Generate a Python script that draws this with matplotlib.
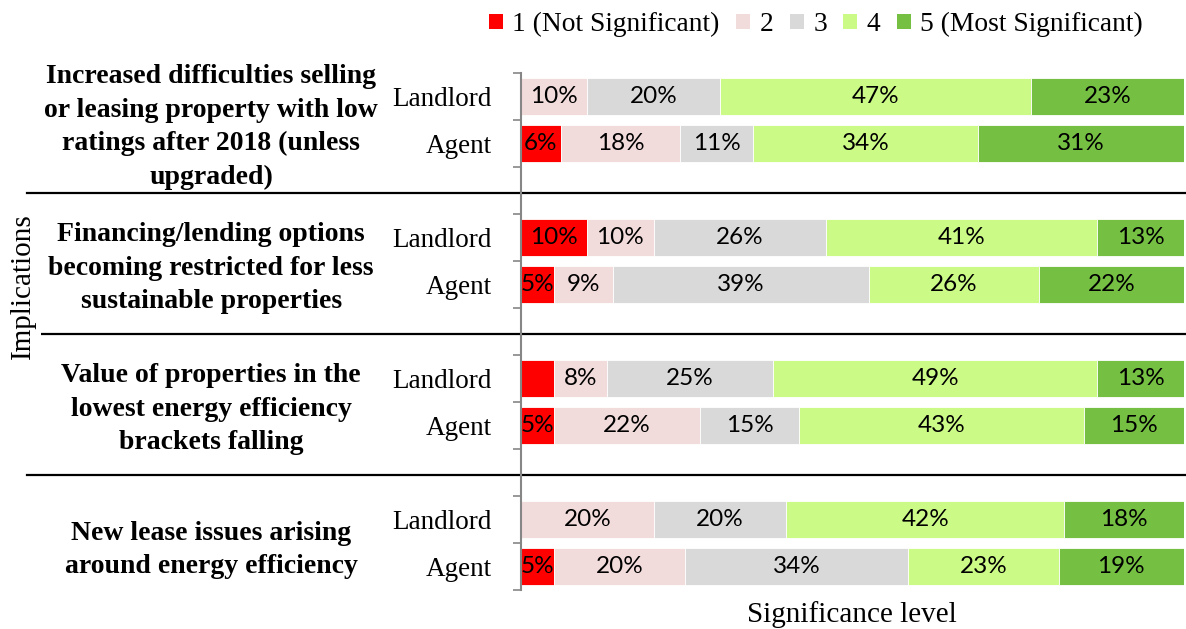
import matplotlib.pyplot as plt
from matplotlib.patches import Patch
import matplotlib.transforms as mtransforms

# implications (one per group) and respondent rows inside each group
groups = [
    'Increased difficulties selling\nor leasing property with low\nratings after 2018 (unless\nupgraded)',
    'Financing/lending options\nbecoming restricted for less\nsustainable properties',
    'Value of properties in the\nlowest energy efficiency\nbrackets falling',
    'New lease issues arising\naround energy efficiency',
]
roles = ['Landlord', 'Agent']
levels = ['1 (Not Significant)', '2', '3', '4', '5 (Most Significant)']
colors = ['#FF0000', '#F2DCDB', '#D9D9D9', '#CCFA87', '#75C043']

# share of answers per level (%), rows: group x role
landlord = [
    [0, 10, 20, 47, 23],
    [10, 10, 26, 41, 13],
    [5, 8, 25, 49, 13],
    [0, 20, 20, 42, 18],
]
agent = [
    [6, 18, 11, 34, 31],
    [5, 9, 39, 26, 22],
    [5, 22, 15, 43, 15],
    [5, 20, 34, 23, 19],
]
# labels shown on the segments ('' = no label)
landlord_lbl = [
    ['', '10%', '20%', '47%', '23%'],
    ['10%', '10%', '26%', '41%', '13%'],
    ['', '8%', '25%', '49%', '13%'],
    ['', '20%', '20%', '42%', '18%'],
]
agent_lbl = [
    ['6%', '18%', '11%', '34%', '31%'],
    ['5%', '9%', '39%', '26%', '22%'],
    ['5%', '22%', '15%', '43%', '15%'],
    ['5%', '20%', '34%', '23%', '19%'],
]

fig = plt.figure(figsize=(11.86, 6.29), dpi=100)
ax = fig.add_axes([0.4393, 0.062, 0.5587, 0.822])

n_cat = len(groups) * 3 - 1
for g in range(len(groups)):
    for r, (vals, lbls) in enumerate([(landlord[g], landlord_lbl[g]), (agent[g], agent_lbl[g])]):
        y = g * 3 + r
        total = sum(vals)
        left = 0
        for k, v in enumerate(vals):
            w = v / total * 100
            if w > 0:
                ax.barh(y, w, left=left, height=0.79, color=colors[k],
                        edgecolor='white', linewidth=0.6)
                if lbls[k]:
                    ax.text(left + w / 2, y, lbls[k], ha='center', va='center',
                            fontsize=17.5, family='Lato', color='black')
            left += w

ax.set_xlim(0, 100)
ax.set_ylim(n_cat - 0.5, -0.5)

# role labels as tick labels, boundary ticks as minor ticks
ticks, tick_lbls = [], []
for g in range(len(groups)):
    for r, role in enumerate(roles):
        ticks.append(g * 3 + r)
        tick_lbls.append(role)
ax.set_yticks(ticks)
ax.set_yticklabels(tick_lbls, family='Liberation Serif', fontsize=19.5)
ax.set_yticks([i - 0.5 for i in range(n_cat + 1)], minor=True)
ax.tick_params(axis='y', which='major', length=0, pad=21)
ax.tick_params(axis='y', which='minor', length=6, color='#868686', width=1.2)
ax.set_xticks([])
for s in ['top', 'right', 'bottom']:
    ax.spines[s].set_visible(False)
ax.spines['left'].set_color('#868686')
ax.spines['left'].set_linewidth(1.5)

# group labels and separators
trans = mtransforms.blended_transform_factory(fig.transFigure, ax.transData)
for g, name in enumerate(groups):
    ax.text(0.178, g * 3 + 0.65, name, transform=trans, ha='center', va='center',
            family='Liberation Serif', fontweight='bold', fontsize=20, linespacing=1.45)
    if g < len(groups) - 1:
        ax.plot([0.023, 1.0], [g * 3 + 2.05, g * 3 + 2.05], transform=trans,
                color='black', linewidth=1.6, clip_on=False, zorder=1)

fig.text(0.019, 0.545, 'Implications', rotation=90, ha='center', va='center',
         family='Liberation Serif', fontsize=21, zorder=5,
         bbox=dict(facecolor='white', edgecolor='none', pad=4))

ax.set_xlabel('Significance level', family='Liberation Serif', fontsize=21, labelpad=8)

handles = [Patch(facecolor=c, edgecolor='none') for c in colors]
fig.legend(handles, levels, loc='upper center', bbox_to_anchor=(0.688, 1.02), ncol=5,
           frameon=False, handlelength=0.5, handleheight=0.5, handletextpad=0.35,
           columnspacing=0.6, prop={'family': 'Liberation Serif', 'size': 19.8})

fig.savefig('out.png', dpi=100)
